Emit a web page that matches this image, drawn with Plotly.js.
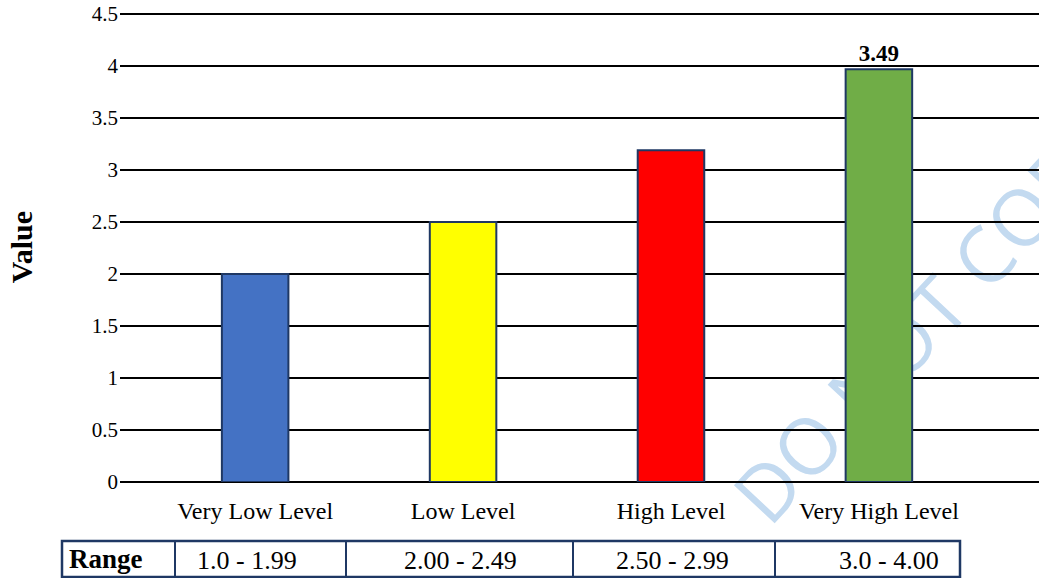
<!DOCTYPE html>
<html>
<head>
<meta charset="utf-8">
<script src="https://cdn.plot.ly/plotly-3.0.1.min.js"></script>
<style>html,body{margin:0;padding:0;background:#fff;}#chart{width:1039px;height:578px;}</style>
</head>
<body>
<div id="chart"></div>
<script>
// ---- data ----
const categories = ['Very Low Level', 'Low Level', 'High Level', 'Very High Level'];
const values = [2.0, 2.5, 3.19, 3.97];
const barLabels = ['', '', '', '3.49'];
const barColors = ['#4472C4', '#FFFF00', '#FF0000', '#70AD47'];
const tableHeader = 'Range';
const ranges = ['1.0 - 1.99', '2.00 - 2.49', '2.50 - 2.99', '3.0 - 4.00'];
const yTicks = [0, 0.5, 1, 1.5, 2, 2.5, 3, 3.5, 4, 4.5];
const yTickText = ['0', '0.5', '1', '1.5', '2', '2.5', '3', '3.5', '4', '4.5'];

// ---- layout helpers (pixel -> paper) ----
const W = 1039, H = 578, PL = 120, PR = 0, PT = 12, PB = 96;
const PW = W - PL - PR, PH = H - PT - PB;
const px2x = p => (p - PL) / PW;
const py2y = p => (PT + PH - p) / PH;

const serif = 'Liberation Serif, Times New Roman, serif';
const navy = '#1F3864';

// table geometry (pixels)
const colEdges = [62, 175, 346, 573, 775, 960];
const rowTop = 541, rowBottom = 577;
const rangeTextX = [247, 460, 672, 889];

const shapes = [];
shapes.push({type: 'rect', xref: 'paper', yref: 'paper',
  x0: px2x(colEdges[0]), x1: px2x(colEdges[colEdges.length - 1]),
  y0: py2y(rowBottom), y1: py2y(rowTop),
  line: {color: navy, width: 2.5}, fillcolor: 'rgba(0,0,0,0)'});
for (let i = 1; i < colEdges.length - 1; i++) {
  shapes.push({type: 'line', xref: 'paper', yref: 'paper',
    x0: px2x(colEdges[i]), x1: px2x(colEdges[i]),
    y0: py2y(rowBottom), y1: py2y(rowTop),
    line: {color: navy, width: 2}});
}

const annotations = [];
annotations.push({xref: 'paper', yref: 'paper', x: px2x(colEdges[0] + 5), y: py2y((rowTop + rowBottom) / 2),
  xanchor: 'left', yanchor: 'middle', showarrow: false, text: tableHeader,
  font: {family: serif, size: 27, color: '#000', weight: 'bold'}});
ranges.forEach((r, i) => {
  annotations.push({xref: 'paper', yref: 'paper', x: px2x(rangeTextX[i]), y: py2y((rowTop + rowBottom) / 2 + 1),
    xanchor: 'center', yanchor: 'middle', showarrow: false, text: r,
    font: {family: serif, size: 26, color: '#000'}});
});

// watermark (decoration, drawn below everything)
const wm = "<svg xmlns='http://www.w3.org/2000/svg' width='1039' height='578' viewBox='0 0 1039 578'>" +
  "<text x='925' y='318' transform='rotate(-47 925 318)' text-anchor='middle' dominant-baseline='central' " +
  "font-family='Open Sans, Liberation Sans, sans-serif' font-weight='400' font-size='78' fill='#c3daf0'>DO NOT COPY</text></svg>";

const trace = {
  type: 'bar',
  x: categories,
  y: values,
  text: barLabels,
  textposition: 'outside',
  cliponaxis: false,
  textfont: {family: serif, size: 23, color: '#000', weight: 'bold'},
  marker: {color: barColors, line: {color: navy, width: 2}},
  width: 0.32,
  hoverinfo: 'x+y'
};

const layout = {
  width: W, height: H,
  margin: {l: PL, r: PR, t: PT, b: PB, pad: 0},
  paper_bgcolor: '#fff',
  plot_bgcolor: 'rgba(0,0,0,0)',
  showlegend: false,
  font: {family: serif, color: '#000'},
  xaxis: {
    type: 'category',
    range: [-0.65, 3.77],
    showgrid: false, showline: false, zeroline: false,
    ticks: '',
    tickfont: {family: serif, size: 24, color: '#000'},
    ticklabelstandoff: 12
  },
  yaxis: {
    range: [0, 4.52],
    tickvals: yTicks,
    ticktext: yTickText,
    showgrid: true, gridcolor: '#000', gridwidth: 2,
    zeroline: true, zerolinecolor: '#000', zerolinewidth: 2,
    showline: false, ticks: '',
    tickfont: {family: serif, size: 21, color: '#000'},
    ticklabelstandoff: 1,
    title: {text: 'Value', font: {family: serif, size: 30, color: '#000', weight: 'bold'}, standoff: 50}
  },
  shapes: shapes,
  annotations: annotations,
  images: [{
    source: 'data:image/svg+xml;charset=utf-8,' + encodeURIComponent(wm),
    xref: 'paper', yref: 'paper',
    x: px2x(0), y: py2y(0), sizex: W / PW, sizey: H / PH,
    xanchor: 'left', yanchor: 'top', sizing: 'stretch', layer: 'below'
  }]
};

Plotly.newPlot('chart', [trace], layout, {displayModeBar: false, staticPlot: true});
</script>
</body>
</html>
